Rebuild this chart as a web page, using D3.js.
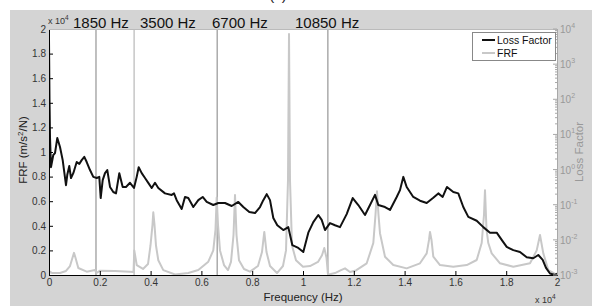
<!DOCTYPE html>
<html><head><meta charset="utf-8">
<script src="https://cdn.jsdelivr.net/npm/d3@7"></script>
<style>body{margin:0;background:#fff}svg{display:block;font-family:"Liberation Sans",Arial,sans-serif}</style>
</head><body><svg id="c" width="592" height="306"></svg>
<script>
// ---- data ----
const lossFreq = [0,20,40,79,169,236,327,433,539,669,720,799,866,957,1091,1193,1287,1390,1484,1614,1744,1878,1980,2035,2114,2205,2295,2402,2531,2638,2768,2902,3031,3189,3346,3453,3531,3650,3780,3909,4043,4173,4303,4567,4831,4921,5027,5224,5354,5484,5681,5878,6051,6209,6468,6665,6929,7193,7453,7650,7886,8110,8307,8437,8571,8701,8831,8988,9224,9421,9579,9815,10012,10209,10406,10602,10736,10866,11063,11260,11457,11720,11957,12177,12441,12638,12835,12965,13228,13425,13689,13819,13949,14082,14342,14606,14870,15118,15327,15500,15669,15917,16114,16311,16508,16839,17098,17362,17626,17823,18020,18280,18543,18807,19067,19264,19437,19567,19724,19921,20000];
const lossFactor = [5000,100,8,1.17,2.6,2.95,7.9,4.4,1.86,0.36,0.71,1.26,0.575,0.79,1.64,1.45,1.86,2.3,1.64,0.97,0.62,0.575,0.62,0.155,0.5,0.79,0.97,0.32,0.23,0.21,0.79,0.32,0.32,0.42,0.30,0.62,1.17,0.79,0.575,0.42,0.30,0.42,0.30,0.21,0.19,0.21,0.135,0.076,0.166,0.155,0.086,0.135,0.166,0.12,0.098,0.112,0.112,0.092,0.12,0.086,0.062,0.058,0.086,0.135,0.20,0.135,0.042,0.026,0.019,0.023,0.0071,0.0059,0.0045,0.016,0.032,0.051,0.037,0.019,0.030,0.026,0.023,0.054,0.155,0.098,0.051,0.098,0.19,0.098,0.086,0.071,0.166,0.26,0.62,0.32,0.166,0.13,0.112,0.155,0.21,0.166,0.32,0.23,0.21,0.086,0.045,0.035,0.023,0.016,0.016,0.010,0.0063,0.0051,0.0045,0.0032,0.0030,0.0037,0.0027,0.0016,0.0011,0.0010,0.0011];
const frfFreq = [0,39,118,433,669,827,925,984,1043,1154,1484,1811,1870,2008,2598,3189,3327,3358,3453,3701,3898,3996,4075,4106,4153,4212,4303,4500,4961,5484,5878,6272,6468,6555,6602,6653,6732,6890,7047,7165,7264,7323,7382,7480,7677,7913,8228,8386,8476,8563,8701,8976,9212,9331,9409,9449,9488,9567,9724,10000,10276,10590,10748,10838,10925,10984,11260,11496,11654,11850,12087,12508,12768,12854,12913,12972,13031,13228,13555,14082,14606,14870,14961,15000,15059,15130,15394,15917,16445,16839,17035,17126,17165,17224,17295,17429,17756,18280,18937,19201,19331,19461,19658,19988];
// FRF in units of 1e4 m/s^2/N
const frfValue = [0.008,0.027,0.016,0.016,0.033,0.073,0.14,0.18,0.14,0.057,0.027,0.04,0.016,0.035,0.033,0.027,0.024,0.20,0.081,0.049,0.089,0.24,0.41,0.51,0.41,0.24,0.12,0.04,0.004,0.016,0.04,0.108,0.20,0.37,0.63,0.41,0.20,0.081,0.04,0.106,0.325,0.65,0.325,0.12,0.049,0.027,0.073,0.187,0.35,0.187,0.073,0.016,0.073,0.20,0.77,1.96,0.77,0.24,0.12,0.067,0.073,0.106,0.16,0.22,0.14,0.002,0.016,0.04,0.054,0.024,0.037,0.095,0.26,0.49,0.68,0.49,0.34,0.149,0.081,0.054,0.095,0.176,0.285,0.35,0.285,0.149,0.081,0.067,0.081,0.122,0.26,0.49,0.69,0.37,0.26,0.176,0.095,0.067,0.095,0.20,0.325,0.176,0.04,0.002];
const markerFreqs = [1850,3350,6620,10980];
const markerLabels = ["1850 Hz","3500 Hz","6700 Hz","10850 Hz"];
const xTicks = [0,2000,4000,6000,8000,10000,12000,14000,16000,18000,20000];
const yLeftTicks = [0,0.2,0.4,0.6,0.8,1,1.2,1.4,1.6,1.8,2];
const yRightExps = [-3,-2,-1,0,1,2,3,4];
const legendLabels = ["Loss Factor","FRF"];

// ---- layout ----
const svg = d3.select("#c");
const L=49,R=557,T=29,B=275;
const x = d3.scaleLinear().domain([0,20000]).range([L,R]);
const yL = d3.scaleLinear().domain([0,2]).range([B,T]);
const yR = d3.scaleLog().domain([1e-3,1e4]).range([B,T]);

svg.append("rect").attr("x",10).attr("y",10).attr("width",582).attr("height",296).attr("fill","#d4d4d4");
svg.append("text").attr("x",278).attr("y",0).attr("text-anchor","middle").attr("font-size",15).attr("fill","#222").text("(c)");
svg.append("rect").attr("x",L).attr("y",T).attr("width",R-L).attr("height",B-T).attr("fill","#fff");

const clip = svg.append("clipPath").attr("id","pc").append("rect").attr("x",L).attr("y",T).attr("width",R-L).attr("height",B-T);
const g = svg.append("g").attr("clip-path","url(#pc)");

// marker lines
g.selectAll("line.m").data(markerFreqs).join("line")
  .attr("x1",d=>x(d)).attr("x2",d=>x(d)).attr("y1",T).attr("y2",B)
  .attr("stroke",(d,i)=>i===1?"#aaa":"#808080").attr("stroke-width",1);

// FRF
const frf = frfFreq.map((f,i)=>[f,frfValue[i]]);
g.append("path").datum(frf).attr("fill","none").attr("stroke","#c8c8c8").attr("stroke-width",2)
  .attr("stroke-linejoin","round")
  .attr("d",d3.line().x(d=>x(d[0])).y(d=>yL(d[1])));
// Loss factor
const lf = lossFreq.map((f,i)=>[f,lossFactor[i]]);
g.append("path").datum(lf).attr("fill","none").attr("stroke","#111").attr("stroke-width",2)
  .attr("stroke-linejoin","round")
  .attr("d",d3.line().x(d=>x(d[0])).y(d=>yR(d[1])));

// marker labels
const labelX = [73,140,212,295];
svg.selectAll("text.ml").data(markerLabels).join("text")
  .attr("x",(d,i)=>labelX[i]).attr("y",28).attr("font-size",15).attr("fill","#111").text(d=>d);

// left axis
const ax = svg.append("g").attr("transform",`translate(${L},0)`)
  .call(d3.axisLeft(yL).tickValues(yLeftTicks).tickSize(-4).tickPadding(3).tickFormat(d3.format("~g")));
ax.select(".domain").attr("stroke","#000");
ax.selectAll(".tick line").attr("stroke","#000");
ax.selectAll("text").attr("font-size",10).attr("fill","#333").attr("font-family","Liberation Sans, Arial, sans-serif");

// bottom axis
const bx = svg.append("g").attr("transform",`translate(0,${B})`)
  .call(d3.axisBottom(x).tickValues(xTicks).tickSize(-4).tickPadding(4).tickFormat(d=>d3.format("~g")(d/1e4)));
bx.select(".domain").attr("stroke","#000");
bx.selectAll(".tick line").attr("stroke","#000");
bx.selectAll("text").attr("font-size",10).attr("fill","#333").attr("font-family","Liberation Sans, Arial, sans-serif");

// top border
svg.append("line").attr("x1",L).attr("x2",R).attr("y1",T+0.5).attr("y2",T+0.5).attr("stroke","#bbb");

// right axis
const rg = svg.append("g");
rg.append("line").attr("x1",R+0.5).attr("x2",R+0.5).attr("y1",T).attr("y2",B).attr("stroke","#a8a8a8");
yRightExps.forEach(e=>{
  const v=Math.pow(10,e);
  rg.append("line").attr("x1",R).attr("x2",R-4).attr("y1",yR(v)).attr("y2",yR(v)).attr("stroke","#a8a8a8");
  if(e<4) for(let k=2;k<10;k++){
    rg.append("line").attr("x1",R).attr("x2",R-2).attr("y1",yR(k*v)).attr("y2",yR(k*v)).attr("stroke","#a8a8a8");
  }
  const t = rg.append("text").attr("x",R+3).attr("y",yR(v)+4).attr("font-size",10).attr("fill","#999");
  t.append("tspan").text("10");
  t.append("tspan").attr("dy",-5).attr("font-size",7).text(e);
});

// multipliers
function mult(xp,yp){
  const t=svg.append("text").attr("x",xp).attr("y",yp).attr("font-size",9).attr("fill","#333");
  t.append("tspan").text("x 10");
  t.append("tspan").attr("dy",-4).attr("font-size",6.5).text("4");
}
mult(48,24);
mult(535,303);

// axis titles
svg.append("text").attr("x",303).attr("y",301).attr("text-anchor","middle").attr("font-size",11.5).attr("fill","#222").text("Frequency (Hz)");
const yt = svg.append("text").attr("transform","translate(27,150) rotate(-90)").attr("text-anchor","middle").attr("font-size",11.5).attr("fill","#222");
yt.append("tspan").text("FRF (m/s");
yt.append("tspan").attr("dy",-4).attr("font-size",8).text("2");
yt.append("tspan").attr("dy",4).text("/N)");
svg.append("text").attr("transform","translate(583,152) rotate(-90)").attr("text-anchor","middle").attr("font-size",11.5).attr("fill","#999").text("Loss Factor");

// legend
const lg = svg.append("g");
lg.append("rect").attr("x",472.5).attr("y",32.5).attr("width",83).attr("height",28).attr("fill","#fff").attr("stroke","#888");
const lcol = ["#111","#c8c8c8"];
legendLabels.forEach((s,i)=>{
  const yy = 40+i*13;
  lg.append("line").attr("x1",482).attr("x2",495).attr("y1",yy).attr("y2",yy).attr("stroke",lcol[i]).attr("stroke-width",2);
  lg.append("text").attr("x",497).attr("y",yy+3.5).attr("font-size",10.5).attr("fill","#111").text(s);
});
</script></body></html>
